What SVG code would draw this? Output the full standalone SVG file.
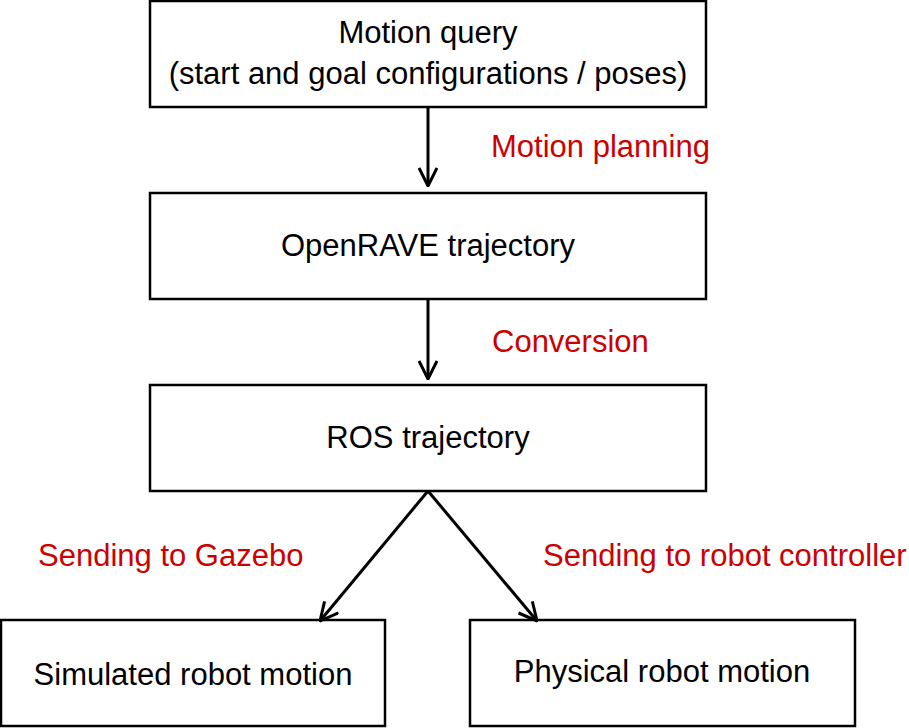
<svg xmlns="http://www.w3.org/2000/svg" width="909" height="728" viewBox="0 0 909 728">
<style>
rect{fill:#fff;stroke:#000;stroke-width:2.5}
text{font-family:"Liberation Sans",Arial,sans-serif;font-size:31px;text-anchor:middle;fill:#000}
.l{fill:#cc0000;text-anchor:start}
.c{stroke:#000;stroke-width:3;fill:none}
</style>
<defs><marker id="b" viewBox="0 0 20 20" refX="19" refY="10" markerWidth="20" markerHeight="20" orient="auto" markerUnits="userSpaceOnUse"><path d="M1,1 L19,10 L1,19" fill="none" stroke="#000" stroke-width="3"/></marker></defs>
<g id="n1"><rect x="150" y="1" width="556" height="106"/><text x="428" y="43">Motion query</text><text x="428" y="84">(start and goal configurations / poses)</text></g>
<g id="n2"><rect x="150" y="193" width="556" height="106"/><text x="428" y="256">OpenRAVE trajectory</text></g>
<g id="n3"><rect x="150" y="385" width="556" height="106"/><text x="428" y="448">ROS trajectory</text></g>
<g id="n4"><rect x="1" y="620" width="384" height="106"/><text x="193" y="685">Simulated robot motion</text></g>
<g id="n5"><rect x="470" y="620" width="385" height="106"/><text x="662" y="682">Physical robot motion</text></g>
<g id="edges">
<path class="c" d="M428,107 V186" marker-end="url(#b)"/>
<path class="c" d="M428,299 V379" marker-end="url(#b)"/>
<path class="c" d="M428,491 L320,621" marker-end="url(#b)"/>
<path class="c" d="M428,491 L537,621" marker-end="url(#b)"/>
<text class="l" x="491" y="157">Motion planning</text>
<text class="l" x="492" y="352">Conversion</text>
<text class="l" x="38" y="566">Sending to Gazebo</text>
<text class="l" x="543" y="566">Sending to robot controller</text>
</g>
</svg>
